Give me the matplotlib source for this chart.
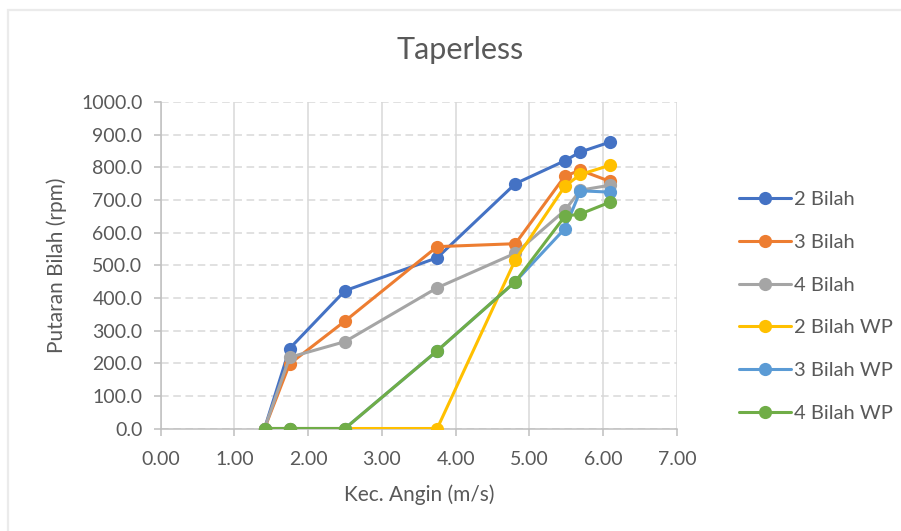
import matplotlib
matplotlib.use("Agg")
import matplotlib.pyplot as plt
from matplotlib.patches import Rectangle

plt.rcParams['font.family'] = ['Lato', 'DejaVu Sans']

# Wind speed (m/s)
kec_angin = [1.41, 1.75, 2.50, 3.75, 4.81, 5.48, 5.69, 6.09]

# Blade rotation (rpm) per configuration
bilah_2 = [0.0, 245.0, 422.0, 523.0, 750.0, 820.0, 847.0, 877.0]
bilah_3 = [0.0, 198.0, 329.0, 557.0, 566.0, 773.0, 791.0, 757.0]
bilah_4 = [0.0, 218.0, 266.0, 431.0, 537.0, 668.0, 730.0, 745.0]
bilah_2_wp = [0.0, 0.0, 0.0, 0.0, 517.0, 742.0, 778.0, 806.0]
bilah_3_wp = [0.0, 0.0, 0.0, 238.0, 450.0, 612.0, 728.0, 724.0]
bilah_4_wp = [0.0, 0.0, 0.0, 238.0, 450.0, 650.0, 657.0, 693.0]

labels = ["2 Bilah", "3 Bilah", "4 Bilah", "2 Bilah WP", "3 Bilah WP", "4 Bilah WP"]
colors = ["#4472C4", "#ED7D31", "#A5A5A5", "#FFC000", "#5B9BD5", "#70AD47"]
series = [bilah_2, bilah_3, bilah_4, bilah_2_wp, bilah_3_wp, bilah_4_wp]

x_ticks = [0, 1, 2, 3, 4, 5, 6, 7]
y_ticks = [0, 100, 200, 300, 400, 500, 600, 700, 800, 900, 1000]

text_color = "#595959"
grid_color = "#D9D9D9"
axis_color = "#BFBFBF"

fig = plt.figure(figsize=(9.01, 5.31), dpi=100)
fig.patch.set_facecolor("white")

# chart frame
fig.patches.append(Rectangle((7.5 / 901, -0.05), 1.2, 1 - 9.5 / 531 + 0.05,
                             transform=fig.transFigure, fill=False,
                             edgecolor="#EBEBEB", linewidth=1.6, zorder=0))

ax = fig.add_axes([160.5 / 901, 1 - 428.5 / 531, (677 - 160.5) / 901, (428.5 - 102) / 531])

for vals, lab, col in zip(series, labels, colors):
    ax.plot(kec_angin, vals, color=col, linewidth=2.2, marker="o",
            markersize=9.5, markeredgewidth=0, label=lab, zorder=3,
            solid_capstyle="round")

ax.set_xlim(0, 7)
ax.set_ylim(0, 1000)
ax.set_xticks(x_ticks)
ax.set_yticks(y_ticks)
ax.set_xticklabels([f"{v:.2f}" for v in x_ticks])
ax.set_yticklabels([f"{v:.1f}" for v in y_ticks])

ax.yaxis.grid(True, color=grid_color, linestyle=(0, (5, 3)), linewidth=1.1)
ax.xaxis.grid(True, color=grid_color, linestyle="-", linewidth=1.1)
ax.set_axisbelow(True)

for side in ["top", "right"]:
    ax.spines[side].set_visible(False)
for side in ["left", "bottom"]:
    ax.spines[side].set_color(axis_color)
    ax.spines[side].set_linewidth(1.1)

ax.tick_params(axis="both", colors=axis_color, labelcolor=text_color,
               labelsize=14, length=5, width=1.1, direction="out")
ax.tick_params(axis="y", pad=8)
ax.tick_params(axis="x", pad=11)

ax.set_xlabel("Kec. Angin (m/s)", fontsize=15, color=text_color, labelpad=12)
ax.set_ylabel("Putaran Bilah (rpm)", fontsize=15, color=text_color, labelpad=10)

fig.text(460 / 901, 1 - 50 / 531, "Taperless", fontsize=22, color=text_color,
         ha="center", va="center")

leg = fig.legend(loc="center left", bbox_to_anchor=(729 / 901, 1 - 306.5 / 531),
                 frameon=False, fontsize=14.5, handlelength=2.6,
                 handletextpad=0.15, labelspacing=1.28, borderpad=0)
for t in leg.get_texts():
    t.set_color(text_color)

fig.savefig("out.png", dpi=100, facecolor="white")
